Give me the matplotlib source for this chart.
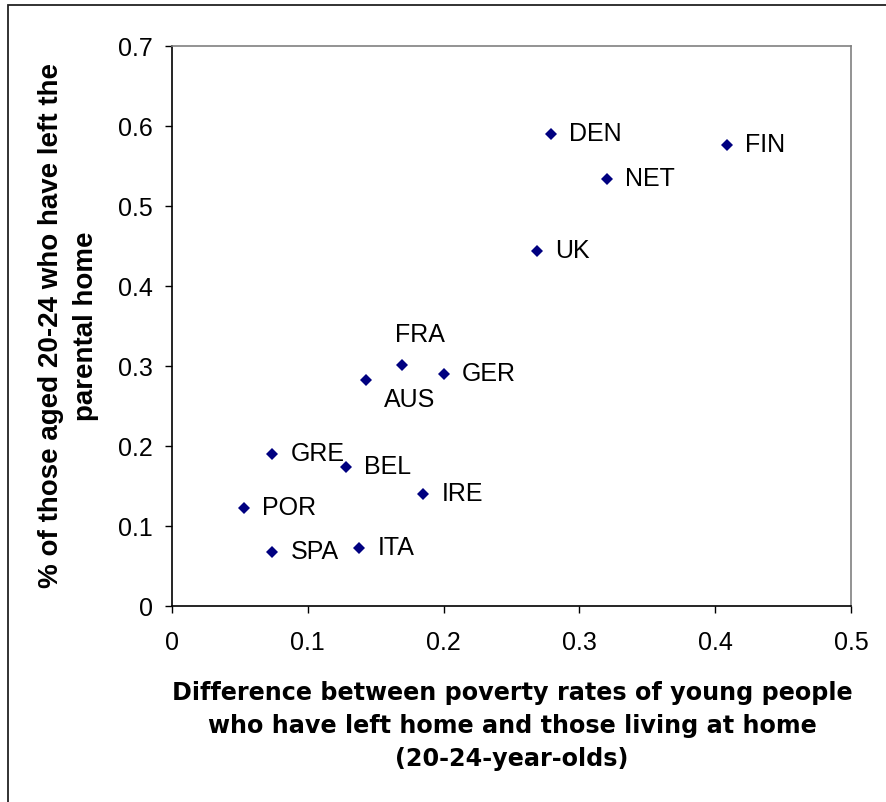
import matplotlib
matplotlib.use("Agg")
import matplotlib.pyplot as plt
from matplotlib.patches import Rectangle

# data
countries = ["DEN", "FIN", "NET", "UK", "FRA", "GER", "AUS",
             "GRE", "BEL", "IRE", "POR", "SPA", "ITA"]
poverty_gap = [0.279, 0.409, 0.320, 0.269, 0.169, 0.200, 0.143,
               0.074, 0.128, 0.185, 0.053, 0.074, 0.138]
left_home = [0.590, 0.576, 0.534, 0.444, 0.301, 0.290, 0.282,
             0.190, 0.174, 0.140, 0.123, 0.067, 0.072]
x_ticks = [0, 0.1, 0.2, 0.3, 0.4, 0.5]
y_ticks = [0, 0.1, 0.2, 0.3, 0.4, 0.5, 0.6, 0.7]

# label offsets in points (default: right of the marker)
label_offsets = {"FRA": (13, 22), "AUS": (31, -14)}
default_offset = (13, 0)

plt.rcParams["font.family"] = ["Liberation Sans", "DejaVu Sans"]

fig = plt.figure(figsize=(8.86, 8.02), dpi=100)
ax = fig.add_axes([172 / 886, 1 - 606 / 802, 679 / 886, 560 / 802])

ax.plot(poverty_gap, left_home, linestyle="none", marker="D", ms=6.4,
        color="#000080", markeredgewidth=0)

for name, x, y in zip(countries, poverty_gap, left_home):
    if name in label_offsets:
        ax.annotate(name, (x, y), xytext=label_offsets[name],
                    textcoords="offset points",
                    ha="center", va="center", fontsize=18)
    else:
        ax.annotate(name, (x, y), xytext=default_offset,
                    textcoords="offset points",
                    ha="left", va="center", fontsize=18)

ax.set_xlim(0, 0.5)
ax.set_ylim(0, 0.7)
ax.set_xticks(x_ticks)
ax.set_yticks(y_ticks)
ax.set_xticklabels(["0" if v == 0 else f"{v:g}" for v in x_ticks])
ax.set_yticklabels(["0" if v == 0 else f"{v:g}" for v in y_ticks])
ax.tick_params(axis="both", direction="out", length=5, width=1, labelsize=18)
ax.tick_params(axis="x", pad=13)
ax.tick_params(axis="y", pad=9)

for side in ["left", "bottom"]:
    ax.spines[side].set_color("black")
    ax.spines[side].set_linewidth(1.2)
for side in ["top", "right"]:
    ax.spines[side].set_color("#808080")
    ax.spines[side].set_linewidth(1.2)

# Excel renders the x title wide, DejaVu bold gets closest
fig.text(512 / 886, 1 - 726 / 802,
         "Difference between poverty rates of young people\n"
         "who have left home and those living at home\n"
         "(20-24-year-olds)",
         ha="center", va="center", fontsize=17.2, fontweight="bold",
         family="DejaVu Sans", linespacing=1.48)

fig.text(69 / 886, 1 - 326 / 802,
         "% of those aged 20-24 who have left the\nparental home",
         ha="center", va="center", rotation=90, fontsize=20,
         fontweight="bold", linespacing=1.45)

# outer chart frame (only left and top edges fall inside the picture)
fig.patches.append(Rectangle((8 / 886, -0.1), 1.2, 1.1 - 5 / 802,
                             transform=fig.transFigure, fill=False,
                             edgecolor="#222222", linewidth=1.3))

fig.savefig("out.png", dpi=100)
